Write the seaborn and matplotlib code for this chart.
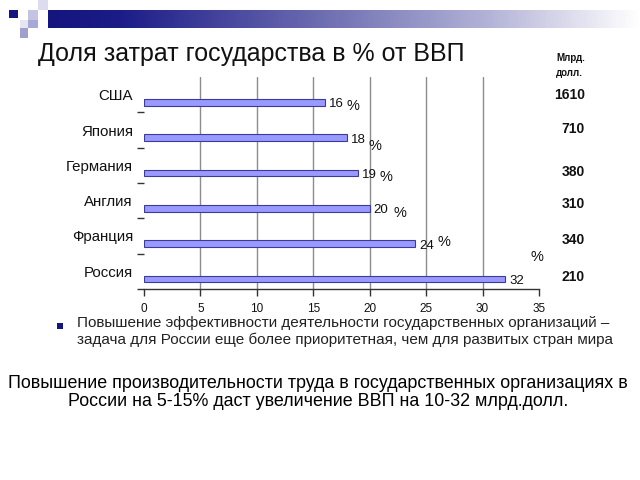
import numpy as np
import pandas as pd
import matplotlib
matplotlib.use("Agg")
import matplotlib.pyplot as plt
import seaborn as sns
from matplotlib.patches import Rectangle
from matplotlib.colors import LinearSegmentedColormap

# ---- data ----
countries = ["США", "Япония", "Германия", "Англия", "Франция", "Россия"]
share_pct = [16, 18, 19, 20, 24, 32]
gdp_bln = [1610, 710, 380, 310, 340, 210]
pct_shown = [True, True, True, True, True, False]
x_ticks = [0, 5, 10, 15, 20, 25, 30, 35]

title = "Доля затрат государства в % от ВВП"
unit_label = "Млрд.\nдолл."
bullet_text = ("Повышение эффективности деятельности государственных организаций –\n"
               "задача для России еще более приоритетная, чем для развитых стран мира")
bottom_text = ("Повышение производительности труда в государственных организациях в\n"
               "России на 5-15% даст увеличение ВВП на 10-32 млрд.долл.")

# ---- styling/positions (not data) ----
pct_offsets = [(28, -4), (28, -8), (28, -4), (30, -5), (29, 2), None]   # pixels
gdp_offsets = [-7, -9, -1, -4, -4, -2]                                   # pixels
BAR_FACE = "#9999ff"
BAR_EDGE = "#3c3c96"

sns.set_theme(style="white")
plt.rcParams["font.family"] = ["Liberation Sans", "DejaVu Sans"]

fig = plt.figure(figsize=(6.4, 4.8), dpi=100)
fig.patch.set_facecolor("white")

# decorative header band
band_ax = fig.add_axes([48/640, 1 - 28/480, 1 - 48/640, 18/480])
cmap = LinearSegmentedColormap.from_list(
    "hdr", [(0, "#15157f"), (0.12, "#1c1c88"), (0.45, "#6a6ab0"), (0.75, "#b4b4d8"), (1, "#ffffff")])
band_ax.imshow(np.linspace(0, 1, 400)[None, :], aspect="auto", cmap=cmap, extent=(0, 1, 0, 1))
band_ax.set_axis_off()

squares = [
    (9, 10, 9, 8, "#15157f"),
    (28, 10, 10, 10, "#c4c4e2"),
    (38, 0, 10, 10, "#dcdcee"),
    (28, 20, 10, 8, "#a8a8d4"),
    (20, 20, 8, 8, "#e6e6f3"),
    (20, 28, 8, 10, "#a0a0cf"),
]
for (x, y, w, h, c) in squares:
    fig.patches.append(Rectangle((x/640, 1 - (y + h)/480), w/640, h/480,
                                 transform=fig.transFigure, facecolor=c, edgecolor="none"))

# main chart axes
ax = fig.add_axes([144/640, 1 - 289/480, (539 - 144)/640, (289 - 77)/480])
df = pd.DataFrame({"country": countries, "share": share_pct})
sns.barplot(data=df, x="share", y="country", orient="h", ax=ax, width=0.19,
            color=BAR_FACE, edgecolor=BAR_EDGE, linewidth=0.8, saturation=1)

ax.set_xlim(0, 35)
ax.set_ylim(len(countries) - 0.72, -0.72)
ax.set_xticks(x_ticks)
ax.set_xticklabels([str(t) for t in x_ticks], fontsize=8.5, color="#111111")
ax.tick_params(axis="x", direction="out", length=5, width=1, color="#333333", pad=5, bottom=True)

centers = np.arange(len(countries)) - 0.22
ax.set_yticks(centers)
ax.set_yticklabels(countries, fontsize=10.8, color="#111111")
ax.set_yticks(np.arange(len(countries)) + 0.28, minor=True)
ax.tick_params(axis="y", which="major", length=0, pad=8)
ax.tick_params(axis="y", which="minor", direction="out", length=5, width=1, color="#333333", left=True)
ax.set_xlabel("")
ax.set_ylabel("")

for t in x_ticks[1:-1]:
    ax.axvline(t, color="#8c8c8c", linewidth=1, zorder=0)

for s in ["top", "right", "left"]:
    ax.spines[s].set_visible(False)
ax.spines["bottom"].set_color("#333333")
ax.spines["bottom"].set_linewidth(1)

# bar value labels
for i, (v, show, off) in enumerate(zip(share_pct, pct_shown, pct_offsets)):
    ax.annotate(str(v), xy=(v, i), xytext=(4, -2), textcoords="offset pixels",
                ha="left", va="center", fontsize=9.5, color="#111111")
    if show and off is not None:
        ax.annotate("%", xy=(v, i), xytext=off, textcoords="offset pixels",
                    ha="center", va="center", fontsize=10.5, color="#111111")
ax.text(34.8, 4.37, "%", ha="center", va="center", fontsize=10.5, color="#111111")

# right column of GDP values
for i, (g, dy) in enumerate(zip(gdp_bln, gdp_offsets)):
    ax.annotate(str(g), xy=(1, i), xycoords=("axes fraction", "data"),
                xytext=(46, -dy), textcoords="offset pixels",
                ha="right", va="center", fontsize=10, fontweight="bold", color="#111111",
                annotation_clip=False)
fig.text(556/640, 1 - 53/480, unit_label, ha="left", va="top", fontsize=7,
         fontweight="bold", color="#111111", linespacing=1.6)

# title
fig.text(38/640, 1 - 54/480, title, ha="left", va="center", fontsize=18, color="#111111")

# bullet
fig.patches.append(Rectangle((57/640, 1 - 329/480), 6/640, 6/480, transform=fig.transFigure,
                             facecolor="#15157f", edgecolor="none"))
fig.text(77/640, 1 - 316/480, bullet_text, ha="left", va="top", fontsize=11,
         color="#222222", linespacing=1.2)

# bottom statement
fig.text(318/640, 1 - 375/480, bottom_text, ha="center", va="top", fontsize=12.9,
         color="#000000", linespacing=1.05)

fig.savefig("out.png", dpi=100, facecolor="white")
